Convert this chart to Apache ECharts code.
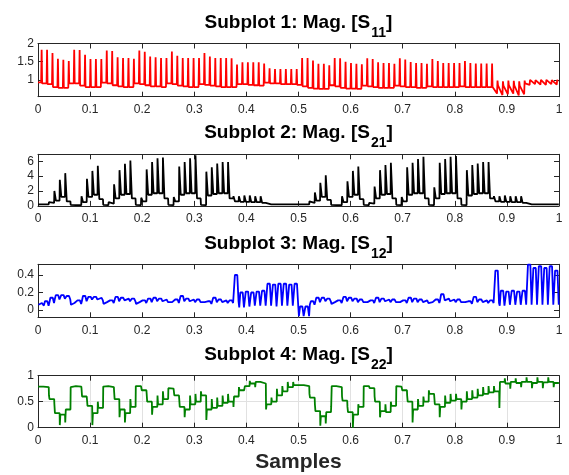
<!DOCTYPE html>
<html>
<head>
<meta charset="utf-8">
<script src="https://cdn.jsdelivr.net/npm/echarts@6/dist/echarts.min.js"></script>
<style>
  html, body { margin: 0; padding: 0; background: #fff; }
  #chart { width: 569px; height: 475px; }
</style>
</head>
<body>
<div id="chart"></div>
<script>
// 16 groups x 6 cells across the normalised sample axis
const CELLS = 96;

const xTicks = [0, 0.1, 0.2, 0.3, 0.4, 0.5, 0.6, 0.7, 0.8, 0.9, 1];
const yTicks1 = [1, 1.5, 2];
const yTicks2 = [0, 2, 4, 6];
const yTicks3 = [0, 0.2, 0.4];
const yTicks4 = [0, 0.5, 1];
const titleIndex = ['1', '2', '3', '4'];
const titleSub = ['11', '21', '12', '22'];
const xLabel = 'Samples';

// Subplot 1: |S11| per cell (level before spike, spike top, level right after spike)
const low11 = [
  0.93, 0.90, 0.88, 0.80, 0.78, 0.78,
  0.90, 0.90, 0.84, 0.80, 0.80, 0.80,
  0.92, 0.90, 0.85, 0.82, 0.80, 0.80,
  0.90, 0.88, 0.85, 0.82, 0.82, 0.80,
  0.90, 0.88, 0.84, 0.82, 0.80, 0.80,
  0.88, 0.86, 0.84, 0.82, 0.80, 0.80,
  0.80, 0.88, 0.88, 0.86, 0.85, 0.84,
  0.92, 0.90, 0.90, 0.88, 0.88, 0.88,
  0.86, 0.82, 0.78, 0.76, 0.75, 0.75,
  0.85, 0.82, 0.78, 0.76, 0.76, 0.75,
  0.84, 0.82, 0.80, 0.78, 0.78, 0.78,
  0.84, 0.82, 0.80, 0.80, 0.78, 0.78,
  0.82, 0.80, 0.80, 0.80, 0.80, 0.80,
  0.82, 0.80, 0.80, 0.80, 0.80, 0.80,
  0.62, 0.58, 0.60, 0.62, 0.57, 0.60,
  0.86, 0.88, 0.87, 0.86, 0.88, 0.87
];
const peak11 = [
  1.83, 1.83, 1.74, 1.58, 1.55, 1.52,
  1.83, 1.82, 1.69, 1.57, 1.57, 1.57,
  1.81, 1.79, 1.62, 1.60, 1.60, 1.58,
  1.81, 1.77, 1.64, 1.62, 1.60, 1.60,
  1.78, 1.66, 1.60, 1.60, 1.60, 1.60,
  1.74, 1.64, 1.60, 1.60, 1.60, 1.59,
  1.42, 1.48, 1.48, 1.48, 1.48, 1.45,
  1.32, 1.30, 1.30, 1.30, 1.30, 1.30,
  1.60, 1.60, 1.53, 1.44, 1.44, 1.40,
  1.60, 1.59, 1.50, 1.46, 1.44, 1.43,
  1.59, 1.57, 1.48, 1.46, 1.46, 1.44,
  1.59, 1.56, 1.49, 1.46, 1.46, 1.44,
  1.57, 1.52, 1.46, 1.46, 1.46, 1.46,
  1.52, 1.46, 1.45, 1.45, 1.45, 1.45,
  0.98, 0.96, 0.98, 0.97, 0.96, 0.98,
  1.00, 0.99, 1.00, 1.00, 0.99, 1.00
];
const post11 = [
  0.90, 0.88, 0.80, 0.78, 0.78, 0.90,
  0.90, 0.84, 0.80, 0.80, 0.80, 0.92,
  0.90, 0.85, 0.82, 0.80, 0.80, 0.90,
  0.88, 0.85, 0.82, 0.82, 0.80, 0.90,
  0.88, 0.84, 0.82, 0.80, 0.80, 0.88,
  0.86, 0.84, 0.82, 0.80, 0.80, 0.80,
  0.88, 0.88, 0.86, 0.85, 0.84, 0.92,
  0.90, 0.90, 0.88, 0.88, 0.88, 0.86,
  0.82, 0.78, 0.76, 0.75, 0.75, 0.85,
  0.82, 0.78, 0.76, 0.76, 0.75, 0.84,
  0.82, 0.80, 0.78, 0.78, 0.78, 0.84,
  0.82, 0.80, 0.80, 0.78, 0.78, 0.82,
  0.80, 0.80, 0.80, 0.80, 0.80, 0.82,
  0.80, 0.80, 0.80, 0.80, 0.80, 0.80,
  0.85, 0.84, 0.85, 0.85, 0.84, 0.90,
  0.95, 0.95, 0.96, 0.95, 0.95, 0.95
];

// Subplot 2: |S21| per cell (spike top, level after decay)
const peak21 = [
  0.20, 0.25, 0.50, 2.00, 3.50, 4.40,
  0.15, 0.15, 1.30, 3.65, 4.70, 5.40,
  0.15, 0.50, 2.90, 4.80, 5.65, 6.10,
  0.15, 1.10, 4.90, 5.90, 6.40, 6.50,
  0.15, 1.20, 5.30, 5.90, 6.40, 6.80,
  0.15, 4.60, 5.20, 5.70, 5.90, 5.90,
  1.30, 1.30, 1.40, 1.40, 1.30, 1.30,
  0.40, 0.40, 0.35, 0.40, 0.35, 0.40,
  0.35, 0.35, 0.60, 1.80, 3.10, 4.10,
  0.15, 0.20, 1.30, 3.30, 4.70, 5.30,
  0.15, 0.40, 2.60, 4.80, 5.50, 5.80,
  0.15, 1.20, 5.20, 5.80, 6.30, 6.60,
  0.15, 2.50, 5.80, 6.30, 6.60, 6.70,
  0.15, 4.80, 5.50, 5.70, 5.90, 5.90,
  1.30, 1.30, 1.40, 1.30, 1.30, 1.30,
  0.40, 0.35, 0.40, 0.35, 0.40, 0.40
];
const end21 = [
  0.20, 0.20, 0.40, 0.70, 1.20, 0.60,
  0.10, 0.10, 0.50, 1.20, 1.50, 0.90,
  0.10, 0.30, 1.00, 1.50, 1.60, 1.00,
  0.10, 0.60, 1.50, 1.70, 1.70, 1.00,
  0.10, 0.60, 1.50, 1.70, 1.70, 1.00,
  0.10, 1.40, 1.60, 1.70, 1.70, 1.00,
  0.60, 0.55, 0.55, 0.50, 0.50, 0.40,
  0.20, 0.20, 0.20, 0.20, 0.20, 0.20,
  0.20, 0.20, 0.40, 0.70, 1.20, 0.80,
  0.10, 0.10, 0.50, 1.20, 1.50, 0.90,
  0.10, 0.30, 1.00, 1.50, 1.60, 1.00,
  0.10, 0.60, 1.50, 1.70, 1.70, 1.00,
  0.10, 1.00, 1.60, 1.70, 1.70, 1.00,
  0.10, 1.40, 1.60, 1.70, 1.70, 1.00,
  0.60, 0.55, 0.55, 0.50, 0.50, 0.40,
  0.20, 0.20, 0.20, 0.20, 0.20, 0.20
];

// Subplot 3: |S12| per cell (trough, hump top)
const lo12 = [
  0.06, 0.05, 0.08, 0.12, 0.13, 0.12,
  0.06, 0.07, 0.10, 0.12, 0.12, 0.11,
  0.07, 0.08, 0.10, 0.11, 0.10, 0.10,
  0.07, 0.08, 0.09, 0.10, 0.10, 0.09,
  0.07, 0.08, 0.10, 0.10, 0.09, 0.09,
  0.07, 0.07, 0.09, 0.09, 0.08, 0.08,
  0.10, 0.03, 0.04, 0.05, 0.05, 0.05,
  0.05, 0.04, 0.05, 0.05, 0.05, 0.05,
  -0.07, -0.07, 0.06, 0.09, 0.10, 0.10,
  0.07, 0.08, 0.10, 0.10, 0.09, 0.09,
  0.07, 0.08, 0.09, 0.10, 0.09, 0.09,
  0.07, 0.08, 0.09, 0.09, 0.09, 0.08,
  0.07, 0.08, 0.11, 0.10, 0.09, 0.09,
  0.07, 0.07, 0.09, 0.09, 0.08, 0.08,
  0.08, 0.05, 0.06, 0.06, 0.06, 0.06,
  0.06, 0.06, 0.06, 0.06, 0.06, 0.06
];
const hi12 = [
  0.08, 0.10, 0.14, 0.17, 0.17, 0.16,
  0.08, 0.11, 0.16, 0.15, 0.15, 0.14,
  0.09, 0.11, 0.15, 0.14, 0.13, 0.13,
  0.09, 0.11, 0.13, 0.14, 0.13, 0.12,
  0.09, 0.12, 0.16, 0.13, 0.12, 0.12,
  0.09, 0.10, 0.14, 0.12, 0.11, 0.11,
  0.40, 0.20, 0.21, 0.20, 0.21, 0.22,
  0.30, 0.29, 0.30, 0.30, 0.29, 0.30,
  0.04, 0.04, 0.10, 0.14, 0.14, 0.13,
  0.09, 0.11, 0.15, 0.14, 0.13, 0.12,
  0.09, 0.11, 0.14, 0.13, 0.12, 0.12,
  0.09, 0.11, 0.14, 0.13, 0.12, 0.11,
  0.09, 0.12, 0.18, 0.13, 0.12, 0.12,
  0.09, 0.10, 0.15, 0.12, 0.11, 0.11,
  0.45, 0.22, 0.21, 0.22, 0.21, 0.22,
  0.52, 0.48, 0.50, 0.48, 0.50, 0.45
];

// Subplot 4: |S22| per cell (short spike at cell start, step level)
const spike22 = [
  0.79, 0.80, 0.62, 0.45, 0.05, 0.10,
  0.78, 0.80, 0.75, 0.60, 0.05, 0.50,
  0.79, 0.80, 0.70, 0.20, 0.10, 0.55,
  0.80, 0.80, 0.70, 0.25, 0.62, 0.70,
  0.76, 0.76, 0.65, 0.20, 0.62, 0.65,
  0.70, 0.15, 0.55, 0.58, 0.62, 0.65,
  0.40, 0.78, 0.72, 0.90, 0.78, 0.90,
  0.35, 0.58, 0.75, 0.80, 0.88, 0.88,
  0.85, 0.82, 0.65, 0.45, 0.04, 0.08,
  0.40, 0.81, 0.60, 0.40, 0.00, 0.45,
  0.80, 0.80, 0.60, 0.20, 0.45, 0.50,
  0.80, 0.80, 0.62, 0.10, 0.55, 0.60,
  0.72, 0.68, 0.20, 0.62, 0.65, 0.65,
  0.35, 0.70, 0.72, 0.75, 0.78, 0.80,
  0.80, 0.38, 0.95, 0.75, 0.95, 0.78,
  0.97, 0.76, 0.97, 0.76, 0.97, 0.78
];
const level22 = [
  0.79, 0.78, 0.55, 0.28, 0.25, 0.35,
  0.80, 0.79, 0.60, 0.42, 0.28, 0.38,
  0.80, 0.78, 0.55, 0.35, 0.28, 0.40,
  0.80, 0.72, 0.50, 0.40, 0.45, 0.55,
  0.75, 0.62, 0.40, 0.35, 0.45, 0.50,
  0.62, 0.35, 0.38, 0.42, 0.48, 0.50,
  0.60, 0.72, 0.80, 0.85, 0.88, 0.85,
  0.45, 0.50, 0.62, 0.70, 0.78, 0.82,
  0.82, 0.80, 0.58, 0.32, 0.22, 0.30,
  0.80, 0.78, 0.52, 0.30, 0.25, 0.40,
  0.80, 0.76, 0.50, 0.32, 0.30, 0.42,
  0.79, 0.72, 0.50, 0.35, 0.42, 0.50,
  0.65, 0.45, 0.40, 0.48, 0.52, 0.55,
  0.50, 0.55, 0.58, 0.62, 0.65, 0.68,
  0.70, 0.88, 0.85, 0.88, 0.86, 0.88,
  0.88, 0.86, 0.88, 0.87, 0.88, 0.86
];

const FONT = '"Liberation Sans", Arial, Helvetica, sans-serif';
const AXIS_COLOR = '#262626';

const cx = (i, f) => (i + f) / CELLS;

const s11 = [[0, low11[0]]];
peak11.forEach((p, i) => {
  s11.push([cx(i, 0.58), low11[i]], [cx(i, 0.67), p], [cx(i, 0.76), post11[i]]);
});
const s21 = [];
peak21.forEach((p, i) => {
  s21.push([cx(i, 0.02), p], [cx(i, 0.3), end21[i]], [cx(i, 0.97), end21[i]]);
});
const s12 = [];
lo12.forEach((lo, i) => {
  s12.push([cx(i, 0.08), lo], [cx(i, 0.28), hi12[i]], [cx(i, 0.72), hi12[i]], [cx(i, 0.95), lo]);
});
const s22 = [];
level22.forEach((lv, i) => {
  s22.push([cx(i, 0.02), spike22[i]], [cx(i, 0.12), lv], [cx(i, 0.98), lv]);
});

const plots = [
  { top: 43.5, height: 53.2, min: 0.535, max: 2.0, ticks: yTicks1, color: '#ff0000', data: s11, grid: false, titleY: 13 },
  { top: 154.3, height: 51.6, min: 0, max: 6.93, ticks: yTicks2, color: '#000000', data: s21, grid: false, titleY: 123.6 },
  { top: 264.3, height: 53, min: -0.083, max: 0.522, ticks: yTicks3, color: '#0000ff', data: s12, grid: false, titleY: 234.3 },
  { top: 375.7, height: 52, min: 0, max: 1, ticks: yTicks4, color: '#008000', data: s22, grid: true, titleY: 345.3 }
];

const fmt = v => String(Math.round(v * 100) / 100);

const grids = [], xAxes = [], yAxes = [], series = [], graphics = [];
plots.forEach((p, k) => {
  grids.push({ left: 38, right: 10, top: p.top, height: p.height });
  const lineCfg = { show: true, onZero: false, lineStyle: { color: AXIS_COLOR, width: 1 } };
  const splitCfg = { show: p.grid, lineStyle: { color: '#e1e1e1', width: 1 } };
  xAxes.push({
    type: 'value', gridIndex: k, position: 'bottom', min: 0, max: 1, interval: 0.1,
    axisLine: lineCfg,
    axisTick: { show: true, inside: true, length: 5, customValues: xTicks, lineStyle: { color: AXIS_COLOR } },
    axisLabel: { customValues: xTicks, formatter: fmt, color: AXIS_COLOR, fontSize: 12, margin: 7, fontFamily: FONT },
    splitLine: splitCfg
  });
  xAxes.push({
    type: 'value', gridIndex: k, position: 'top', min: 0, max: 1, interval: 0.1,
    axisLine: lineCfg,
    axisTick: { show: true, inside: true, length: 5, customValues: xTicks, lineStyle: { color: AXIS_COLOR } },
    axisLabel: { show: false },
    splitLine: { show: false }
  });
  yAxes.push({
    type: 'value', gridIndex: k, position: 'left', min: p.min, max: p.max,
    axisLine: lineCfg,
    axisTick: { show: true, inside: true, length: 5, customValues: p.ticks, lineStyle: { color: AXIS_COLOR } },
    axisLabel: { customValues: p.ticks, formatter: fmt, color: AXIS_COLOR, fontSize: 12, margin: 4, fontFamily: FONT },
    splitLine: p.grid ? { show: true, lineStyle: { color: '#e1e1e1', width: 1 } } : { show: false }
  });
  yAxes.push({
    type: 'value', gridIndex: k, position: 'right', min: p.min, max: p.max,
    axisLine: lineCfg,
    axisTick: { show: true, inside: true, length: 5, customValues: p.ticks, lineStyle: { color: AXIS_COLOR } },
    axisLabel: { show: false },
    splitLine: { show: false }
  });
  series.push({
    type: 'line', xAxisIndex: k * 2, yAxisIndex: k * 2, data: p.data,
    showSymbol: false, symbol: 'none', animation: false,
    lineStyle: { color: p.color, width: 1.8, join: 'bevel' }
  });
  graphics.push({
    type: 'text', x: 298.5, y: p.titleY,
    style: {
      text: '{t|Subplot ' + titleIndex[k] + ': Mag. [S}{s|' + titleSub[k] + '}{t|]}',
      align: 'center', verticalAlign: 'top',
      rich: {
        t: { fontSize: 19, fontWeight: 'bold', fontFamily: FONT, lineHeight: 22, verticalAlign: 'top', fill: '#000', color: '#000' },
        s: { fontSize: 14, fontWeight: 'bold', fontFamily: FONT, lineHeight: 16, verticalAlign: 'top', padding: [13, 0, 0, 1], fill: '#000', color: '#000' }
      }
    }
  });
});

graphics.push({
  type: 'text', x: 298.5, y: 452,
  style: { text: xLabel, align: 'center', verticalAlign: 'top', fontSize: 21, fontWeight: 'bold', fontFamily: FONT, fill: '#262626' }
});

const chart = echarts.init(document.getElementById('chart'), null, { renderer: 'canvas' });
chart.setOption({
  animation: false,
  backgroundColor: '#ffffff',
  grid: grids,
  xAxis: xAxes,
  yAxis: yAxes,
  series: series,
  graphic: graphics
});
</script>
</body>
</html>
